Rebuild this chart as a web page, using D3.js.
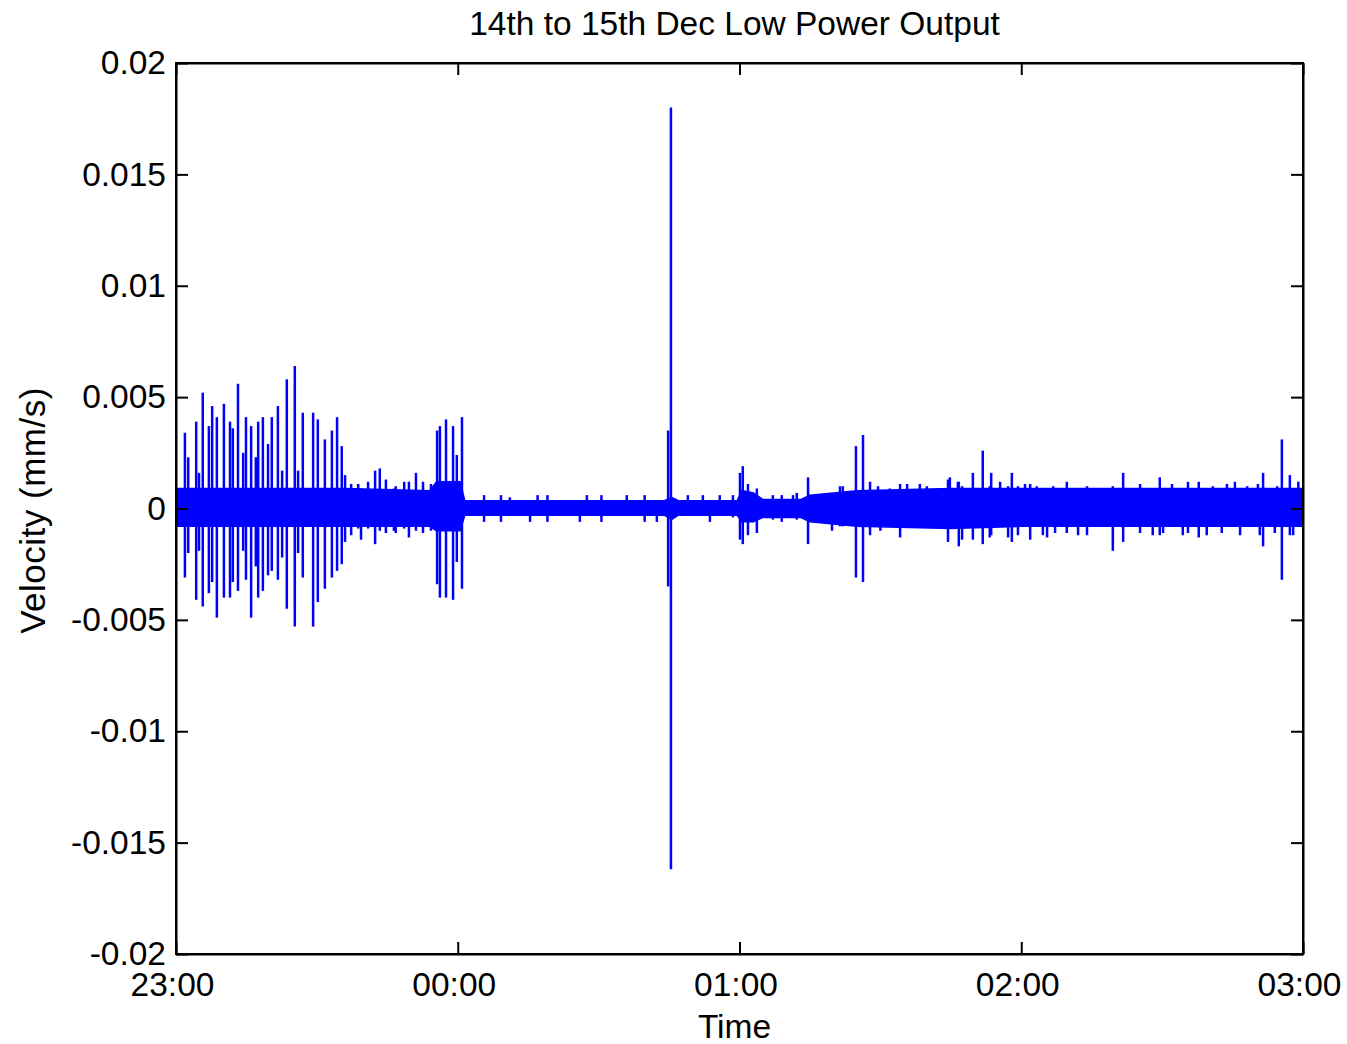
<!DOCTYPE html>
<html>
<head>
<meta charset="utf-8">
<script src="https://cdn.jsdelivr.net/npm/d3@7"></script>
<style>
  body { margin: 0; background: #fff; }
  svg text { font-family: "Liberation Sans", Arial, Helvetica, sans-serif; fill: #000; }
  .axis path, .axis line { stroke: #000; }
</style>
</head>
<body>
<div class="chart-container"></div>
<script>
// Tick labels
var hourLabels = ["23:00", "00:00", "01:00", "02:00", "03:00"];
var hourTicks = [0, 60, 120, 180, 240];           // minutes after 23:00
var yTicks = [-0.02, -0.015, -0.01, -0.005, 0, 0.005, 0.01, 0.015, 0.02];

// Dense background band (minutes after 23:00, upper / lower velocity)
var bandTime  = [0, 36, 54, 55.5, 60.5, 61.5, 104, 105.5, 107, 119.5, 120.5, 123, 125, 133, 135, 145, 165, 180, 240];
var bandUpper = [0.0009, 0.0009, 0.0008, 0.0012, 0.0012, 0.00035, 0.00035, 0.0005, 0.00035, 0.00035, 0.0008, 0.0007, 0.0004, 0.0004, 0.0006, 0.0008, 0.0009, 0.0009, 0.0009];
var bandLower = [-0.0008, -0.0008, -0.0008, -0.0010, -0.0010, -0.0003, -0.0003, -0.0005, -0.0003, -0.0003, -0.0006, -0.0006, -0.0004, -0.0004, -0.0006, -0.0008, -0.0009, -0.0008, -0.0008];

// Individual spikes (minutes after 23:00, max / min velocity)
var spikeTime = [1.9, 2.6, 4.3, 4.9, 5.7, 7.0, 7.7, 8.7, 10.2, 11.5, 12.1, 13.2, 14.3, 14.9, 16.0, 17.0, 17.5, 18.5, 19.6, 20.4, 21.7, 22.6, 23.6, 25.3, 26.0, 27.0, 29.2, 30.2, 31.7, 33.2, 34.3, 35.3, 36.0,
                 37.3, 38.8, 39.4, 40.9, 42.4, 43.4, 44.7, 46.4, 46.8, 48.6, 49.6, 51.1, 52.6, 54.3,
                 55.6, 56.2, 57.5, 59.0, 59.8, 60.9,
                 65.6, 69.2, 71.1, 75.4, 77.0, 79.1, 86.0, 87.5, 90.6, 96.0, 99.8, 102.4, 104.8, 105.4, 109.0, 112.2, 113.7, 115.8, 118.6,
                 120.1, 120.7, 121.8, 123.7, 127.1, 129.0, 131.4, 132.2, 134.6,
                 139.7, 141.4, 142.0, 144.8, 146.3, 147.8, 149.5, 150.0, 152.0, 154.2, 155.7, 158.4, 159.9, 164.4, 164.8, 166.5, 166.7, 167.4, 169.7, 171.8, 173.3, 173.6, 175.5, 177.2, 178.0, 179.3, 180.8, 181.9, 183.3,
                 184.6, 185.5, 186.8, 187.2, 189.7, 192.1, 194.0, 199.5, 201.7, 205.3, 208.0, 209.5, 210.2, 212.1, 214.4, 215.5, 217.8, 219.5, 220.8, 222.7, 223.8, 225.5, 226.6, 228.1, 230.4, 230.8, 231.5, 234.0, 234.5, 235.5, 237.2, 237.9, 239.0];
var spikeHigh = [0.0034, 0.0023, 0.0039, 0.0016, 0.0052, 0.0037, 0.0046, 0.0041, 0.0047, 0.0039, 0.0036, 0.0056, 0.0025, 0.0041, 0.0037, 0.0023, 0.0039, 0.0041, 0.0029, 0.0041, 0.0046, 0.0017, 0.0058, 0.0064, 0.0017, 0.0043, 0.0043, 0.0040, 0.0031, 0.0035, 0.0041, 0.0028, 0.0015,
                 0.0011, 0.0011, 0.0009, 0.0012, 0.0017, 0.0018, 0.0013, 0.0009, 0.0010, 0.0012, 0.0012, 0.0016, 0.0012, 0.0011,
                 0.0035, 0.0037, 0.0040, 0.0037, 0.0024, 0.0041,
                 0.0006, 0.0006, 0.0005, 0.0003, 0.0006, 0.0006, 0.0003, 0.0006, 0.0006, 0.0006, 0.0006, 0.0003, 0.0035, 0.0180, 0.0006, 0.0006, 0.0003, 0.0006, 0.0006,
                 0.0016, 0.0019, 0.0011, 0.0009, 0.0006, 0.0006, 0.0006, 0.0007, 0.0014,
                 0.0007, 0.0010, 0.0010, 0.0028, 0.0033, 0.0012, 0.0010, 0.0007, 0.0009, 0.0011, 0.0011, 0.0011, 0.0010, 0.0013, 0.0014, 0.0012, 0.0012, 0.0010, 0.0016, 0.0026, 0.0010, 0.0016, 0.0012, 0.0010, 0.0016, 0.0010, 0.0011, 0.0011, 0.0010,
                 0.0008, 0.0008, 0.0010, 0.0008, 0.0012, 0.0008, 0.0010, 0.0010, 0.0016, 0.0011, 0.0008, 0.0014, 0.0008, 0.0011, 0.0008, 0.0012, 0.0012, 0.0008, 0.0010, 0.0008, 0.0011, 0.0012, 0.0008, 0.0010, 0.0011, 0.0008, 0.0016, 0.0008, 0.0010, 0.0031, 0.0015, 0.0008, 0.0012];
var spikeLow  = [-0.0031, -0.0020, -0.0041, -0.0019, -0.0044, -0.0038, -0.0033, -0.0049, -0.0040, -0.0040, -0.0033, -0.0037, -0.0019, -0.0032, -0.0049, -0.0026, -0.0040, -0.0037, -0.0030, -0.0028, -0.0032, -0.0022, -0.0045, -0.0053, -0.0020, -0.0031, -0.0053, -0.0042, -0.0036, -0.0031, -0.0028, -0.0025, -0.0015,
                 -0.0012, -0.0009, -0.0014, -0.0009, -0.0016, -0.0010, -0.0011, -0.0010, -0.0011, -0.0009, -0.0013, -0.0010, -0.0011, -0.0010,
                 -0.0034, -0.0040, -0.0040, -0.0041, -0.0024, -0.0036,
                 -0.0006, -0.0006, -0.0003, -0.0006, -0.0003, -0.0006, -0.0006, -0.0003, -0.0006, -0.0003, -0.0006, -0.0006, -0.0035, -0.0162, -0.0003, -0.0003, -0.0006, -0.0003, -0.0004,
                 -0.0014, -0.0016, -0.0012, -0.0011, -0.0005, -0.0006, -0.0004, -0.0005, -0.0016,
                 -0.0010, -0.0008, -0.0008, -0.0031, -0.0033, -0.0012, -0.0008, -0.0010, -0.0008, -0.0013, -0.0008, -0.0008, -0.0008, -0.0015, -0.0008, -0.0008, -0.0017, -0.0014, -0.0014, -0.0016, -0.0013, -0.0012, -0.0008, -0.0013, -0.0015, -0.0012, -0.0008, -0.0014, -0.0008,
                 -0.0012, -0.0013, -0.0007, -0.0011, -0.0011, -0.0012, -0.0012, -0.0019, -0.0015, -0.0011, -0.0012, -0.0012, -0.0011, -0.0007, -0.0012, -0.0011, -0.0013, -0.0012, -0.0007, -0.0011, -0.0007, -0.0007, -0.0012, -0.0007, -0.0007, -0.0012, -0.0017, -0.0011, -0.0007, -0.0032, -0.0012, -0.0012, -0.0007];

// Set Margin
var margin = { top: 63, right: 44, bottom: 90, left: 176 },
    width = 1347 - margin.left - margin.right,
    height = 1044 - margin.top - margin.bottom;

// Set Range
var x = d3.scaleLinear().domain([0, 240]).range([0, width]);
var y = d3.scaleLinear().domain([-0.02, 0.02]).range([height, 0]);

var svg = d3.select('.chart-container').append("svg")
    .attr("width", 1347)
    .attr("height", 1044);

var g = svg.append("g")
    .attr("transform", "translate(" + margin.left + "," + margin.top + ")");

g.append("clipPath").attr("id", "plotClip")
  .append("rect").attr("width", width).attr("height", height);

var plot = g.append("g").attr("clip-path", "url(#plotClip)");

// Background band
var band = bandTime.map(function(t, i) {
    return { t: t, hi: bandUpper[i], lo: bandLower[i] };
});
plot.append("path")
    .datum(band)
    .attr("fill", "#0000ff")
    .attr("stroke", "#0000ff")
    .attr("stroke-width", 1.5)
    .attr("d", d3.area()
        .x(function(d) { return x(d.t); })
        .y0(function(d) { return y(d.lo); })
        .y1(function(d) { return y(d.hi); }));

// Spikes
var spikes = spikeTime.map(function(t, i) {
    return { t: t, hi: spikeHigh[i], lo: spikeLow[i] };
});
plot.selectAll(".spike")
    .data(spikes)
    .enter().append("line")
    .attr("class", "spike")
    .attr("x1", function(d) { return x(d.t); })
    .attr("x2", function(d) { return x(d.t); })
    .attr("y1", function(d) { return y(d.hi); })
    .attr("y2", function(d) { return y(d.lo); })
    .attr("stroke", "#0000ff")
    .attr("stroke-width", 2.5);

var yFmt = function(d) { return String(+d.toFixed(3)); };

// Add the x Axis
var xAxis = g.append("g")
    .attr("class", "axis")
    .attr("transform", "translate(0," + height + ")")
    .call(d3.axisBottom(x).tickValues(hourTicks)
        .tickFormat(function(d, i) { return hourLabels[i]; })
        .tickSizeInner(-12).tickSizeOuter(0).tickPadding(18));
xAxis.selectAll("text").attr("dy", "0.71em").attr("dx", -4).style("font-size", "33.5px");

g.append("g")
    .attr("class", "axis")
    .call(d3.axisTop(x).tickValues(hourTicks).tickFormat("")
        .tickSizeInner(-12).tickSizeOuter(0));

// Add the y Axis
var yAxis = g.append("g")
    .attr("class", "axis")
    .call(d3.axisLeft(y).tickValues(yTicks).tickFormat(yFmt)
        .tickSizeInner(-12).tickSizeOuter(0).tickPadding(10));
yAxis.selectAll("text").style("font-size", "33.5px");

g.append("g")
    .attr("class", "axis")
    .attr("transform", "translate(" + width + ",0)")
    .call(d3.axisRight(y).tickValues(yTicks).tickFormat("")
        .tickSizeInner(-12).tickSizeOuter(0));

g.selectAll(".axis path, .axis line").attr("stroke-width", 2);
g.selectAll(".axis text").attr("font-family", null);

// Frame
g.append("rect")
    .attr("width", width)
    .attr("height", height)
    .attr("fill", "none")
    .attr("stroke", "#000")
    .attr("stroke-width", 2);

// Title and labels
svg.append("text")
    .attr("x", margin.left + width / 2 - 5)
    .attr("y", 35)
    .attr("text-anchor", "middle")
    .style("font-size", "33.5px")
    .text("14th to 15th Dec Low Power Output");

svg.append("text")
    .attr("x", margin.left + width / 2 - 5)
    .attr("y", 1038)
    .attr("text-anchor", "middle")
    .style("font-size", "33.5px")
    .text("Time");

svg.append("text")
    .attr("transform", "translate(45," + (margin.top + height / 2 + 2) + ") rotate(-90)")
    .attr("text-anchor", "middle")
    .style("font-size", "35px")
    .style("letter-spacing", "0.5px")
    .text("Velocity (mm/s)");
</script>
</body>
</html>
